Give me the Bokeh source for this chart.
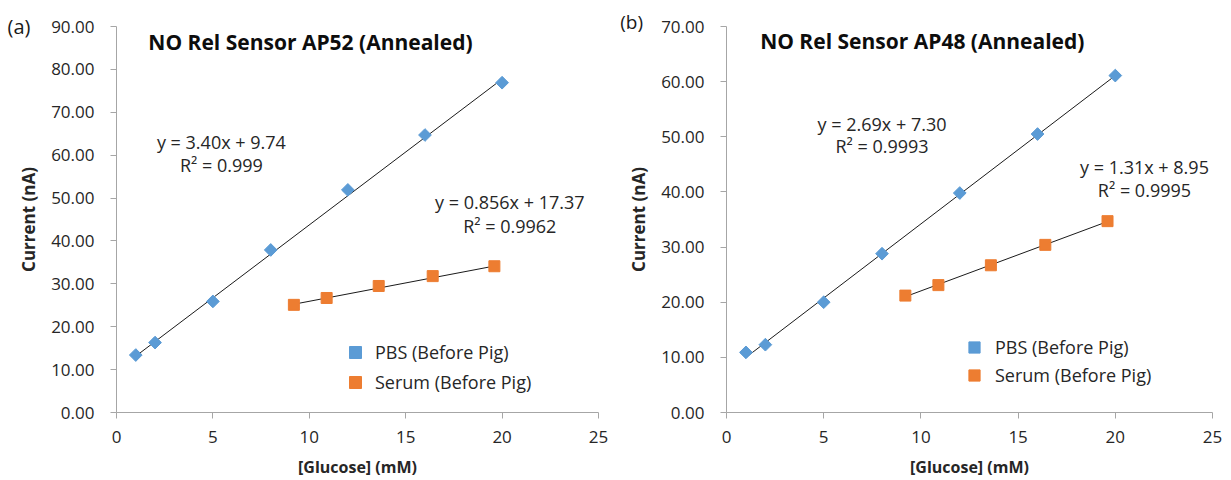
from bokeh.plotting import figure
from bokeh.models import (Range1d, FixedTicker, NumeralTickFormatter, Label,
                          Legend, LegendItem, LinearAxis)
from bokeh.layouts import row
from bokeh.embed import file_html
from bokeh.resources import INLINE
import math

FONT = "Open Sans"
TEXT = "#262626"
AXIS = "#A6A6A6"
BLUE = "#5B9BD5"
ORANGE = "#ED7D31"

# Glucose concentrations (mM)
glucose_pbs = [1, 2, 5, 8, 12, 16, 20]
glucose_serum = [9.2, 10.9, 13.6, 16.4, 19.6]

# Sensor AP52 currents (nA)
ap52_pbs = [13.4, 16.3, 25.9, 37.9, 51.9, 64.7, 76.9]
ap52_serum = [25.1, 26.7, 29.5, 31.8, 34.1]
# linear fits: slope, intercept, R^2
ap52_pbs_fit = ("3.40", "9.74", "0.999")
ap52_serum_fit = ("0.856", "17.37", "0.9962")

# Sensor AP48 currents (nA)
ap48_pbs = [10.9, 12.3, 20.0, 28.8, 39.8, 50.5, 61.1]
ap48_serum = [21.2, 23.1, 26.7, 30.4, 34.7]
ap48_pbs_fit = ("2.69", "7.30", "0.9993")
ap48_serum_fit = ("1.31", "8.95", "0.9995")

x_ticks = [0, 5, 10, 15, 20, 25]
series_names = ["PBS (Before Pig)", "Serum (Before Pig)"]


def text_label(p, x, y, text, size="18px", bold=False, align="center",
               baseline="middle", color=TEXT, place=None):
    lab = Label(x=x, y=y, text=text, text_font=FONT, text_font_size=size,
                text_font_style="bold" if bold else "normal",
                text_align=align, text_baseline=baseline, text_color=color)
    if place is None:
        p.add_layout(lab)
    else:
        p.add_layout(lab, place)


def tag_axis(p, y_max, tag, standoff):
    # an unlined axis whose single tick carries the panel tag
    ax = LinearAxis(ticker=FixedTicker(ticks=[y_max]),
                    major_label_overrides={y_max: tag},
                    axis_line_color=None, major_tick_line_color=None,
                    minor_tick_line_color=None, major_tick_out=0,
                    major_tick_in=0, major_label_standoff=standoff,
                    major_label_text_font=FONT,
                    major_label_text_font_size="20px",
                    major_label_text_color="#1A1A1A")
    p.add_layout(ax, "left")


def trend(p, xs, fit):
    m, b = float(fit[0]), float(fit[1])
    x0, x1 = min(xs), max(xs)
    p.line([x0, x1], [m * x0 + b, m * x1 + b], line_color="#1A1A1A",
           line_width=1)


def panel(width, border_left, border_right, border_top, y_max, tag, title,
          pbs, serum, pbs_fit, serum_fit, tag_mode, tag_pos, title_pos,
          eq1_pos, eq2_pos, legend_loc, legend_h, legend_standoff):
    p = figure(width=width, height=480, output_backend="svg",
               toolbar_location=None, title=None,
               x_range=Range1d(0, 25), y_range=Range1d(0, y_max),
               min_border_left=border_left, min_border_right=border_right,
               min_border_top=border_top, min_border_bottom=68)
    p.outline_line_color = None
    p.xgrid.visible = False
    p.ygrid.visible = False
    p.background_fill_color = "white"
    p.border_fill_color = "white"

    for ax in (p.xaxis[0], p.yaxis[0]):
        ax.axis_line_color = AXIS
        ax.major_tick_line_color = AXIS
        ax.major_tick_out = 6
        ax.major_tick_in = 0
        ax.minor_tick_line_color = None
        ax.major_label_text_font = FONT
        ax.major_label_text_font_size = "17px"
        ax.major_label_text_color = TEXT
        ax.axis_label_text_font = FONT
        ax.axis_label_text_font_style = "bold"
        ax.axis_label_text_color = TEXT

    p.xaxis.axis_label_text_font_size = "16px"
    p.yaxis.axis_label_text_font_size = "17px"
    p.xaxis.ticker = FixedTicker(ticks=x_ticks)
    p.yaxis.ticker = FixedTicker(ticks=list(range(0, y_max + 1, 10)))
    p.yaxis.formatter = NumeralTickFormatter(format="0.00")
    p.xaxis.axis_label = "[Glucose] (mM)"
    p.yaxis.axis_label = "Current (nA)"
    p.xaxis.major_label_standoff = 12
    p.yaxis.major_label_standoff = 16
    p.xaxis.axis_label_standoff = 10
    p.yaxis.axis_label_standoff = 8

    trend(p, glucose_pbs, pbs_fit)
    trend(p, glucose_serum, serum_fit)

    r_pbs = p.scatter(glucose_pbs, pbs, marker="square", angle=math.pi / 4,
                      size=9, fill_color=BLUE, line_color=BLUE)
    r_serum = p.scatter(glucose_serum, serum, marker="square", size=11,
                        fill_color=ORANGE, line_color=ORANGE)

    legend = Legend(items=[LegendItem(label=series_names[0], renderers=[r_pbs]),
                           LegendItem(label=series_names[1], renderers=[r_serum])],
                    location=legend_loc, orientation="vertical",
                    glyph_width=30, glyph_height=legend_h,
                    label_standoff=legend_standoff, spacing=0, padding=0,
                    margin=0, border_line_color=None,
                    background_fill_alpha=0,
                    label_text_font=FONT, label_text_font_size="18px",
                    label_text_color=TEXT)
    p.add_layout(legend)

    # panel tag, e.g. "(a)", left of the value axis
    if tag_mode == "axis":
        tag_axis(p, y_max, tag, tag_pos[0])
    else:
        text_label(p, tag_pos[0], tag_pos[1], tag, size="19px", align="left",
                   baseline="middle", color="#1A1A1A", place="above")

    text_label(p, title_pos[0], title_pos[1], title, size="21px", bold=True,
               align="left", baseline="alphabetic", color="#0D0D0D")

    for fit, pos in ((pbs_fit, eq1_pos), (serum_fit, eq2_pos)):
        text_label(p, pos[0], pos[1], f"y = {fit[0]}x + {fit[1]}")
        text_label(p, pos[0], pos[2], f"R\u00b2 = {fit[2]}")
    return p


left = panel(615, 116, 17, 20, 90, "(a)", "NO Rel Sensor AP52 (Annealed)",
             ap52_pbs, ap52_serum, ap52_pbs_fit, ap52_serum_fit,
             tag_mode="axis", tag_pos=(-16, None), title_pos=(1.65, 86.5),
             eq1_pos=(5.44, 63.1, 57.6), eq2_pos=(20.4, 49.0, 43.6),
             legend_loc=(224, 15), legend_h=30, legend_standoff=5)

right = panel(616, 111, 19, 25, 70, "(b)", "NO Rel Sensor AP48 (Annealed)",
              ap48_pbs, ap48_serum, ap48_pbs_fit, ap48_serum_fit,
              tag_mode="label", tag_pos=(-5.47, 70.9), title_pos=(1.73, 67.3),
              eq1_pos=(8.0, 52.4, 48.3), eq2_pos=(21.5, 44.5, 40.3),
              legend_loc=(233, 23), legend_h=28, legend_standoff=6)

layout = row(left, right)
open("out.html", "w").write(file_html(layout, INLINE))
